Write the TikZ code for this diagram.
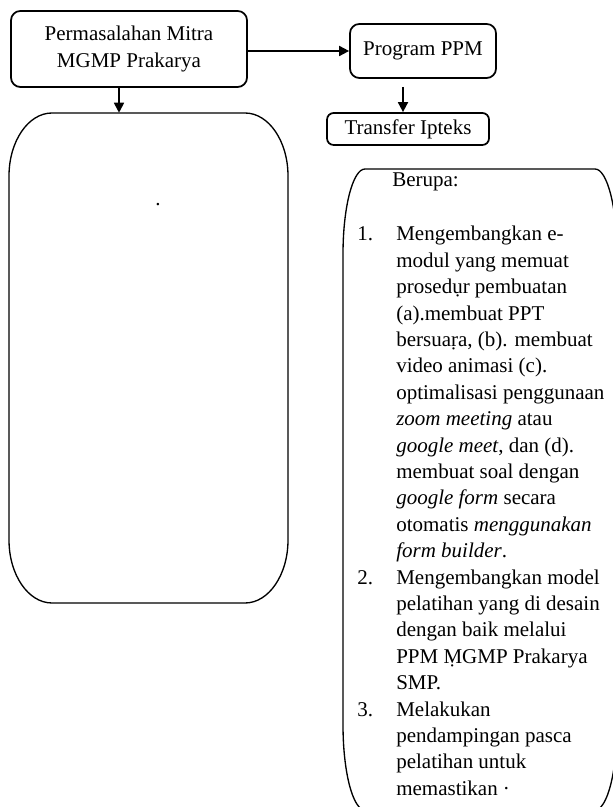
\documentclass[tikz,border=0pt]{standalone}
\usepackage{fontspec}
\setmainfont{Liberation Serif}
\usetikzlibrary{arrows.meta, calc, fit}
\tikzset{
    x=0.75pt, y=0.75pt, % one unit is one pixel of the scan
    every node/.style={font=\fontsize{15.75}{19.8}\selectfont}, % Times-like text everywhere
    box/.style={draw, line width=1.3pt, rounded corners=7pt, align=center, inner sep=2pt}, % the small boxes on top
    arr/.style={-{Triangle[length=7.5pt, width=7.5pt]}, line width=1.3pt}, % the black arrows
    outline/.style={line width=1pt}, % the two big rounded frames
}

\begin{document}
\begin{tikzpicture}
    \useasboundingbox (0,0) rectangle (613,807);
    \clip (0,0) rectangle (613,807);

    \node[box, minimum width=177pt, minimum height=57pt] (prob) at (129,758) {Permasalahan Mitra\\MGMP Prakarya};
    \node[box, minimum width=109.5pt, minimum height=40.5pt] (prog) at (423,756) {Program PPM};
    \node[box, rounded corners=5pt, minimum width=121.5pt, minimum height=24pt] (trans) at (408,678) {Transfer Ipteks};

    % left frame
    \node[fit={(9,204) (288,694)}, inner sep=0] (lbox) {};
    \draw[outline] (52,694) -- (245,694) arc[start angle=90, end angle=0, x radius=43, y radius=63]
        -- (288,267) arc[start angle=0, end angle=-90, x radius=43, y radius=63]
        -- (52,204) arc[start angle=270, end angle=180, x radius=43, y radius=63]
        -- (9,631) arc[start angle=180, end angle=90, x radius=43, y radius=63] -- cycle;
    \node[anchor=base, inner sep=0] (titik) at (158,601) {.};

    % right frame
    \draw[outline] (365,638) -- (595,638) arc[start angle=90, end angle=0, x radius=22, y radius=85]
        -- (617,82) arc[start angle=0, end angle=-90, x radius=22, y radius=85]
        -- (365,-3) arc[start angle=270, end angle=180, x radius=22, y radius=85]
        -- (343,553) arc[start angle=180, end angle=90, x radius=22, y radius=85] -- cycle;
    \node[anchor=base west, inner sep=0] (berupa) at (392,620) {Berupa:};
    \node[anchor=base west, inner sep=0] (daftar) at (357,566) {%
        \begin{tabular}[t]{@{}p{29.25pt}@{}l@{}}
        1. & Mengembangkan e-\\
           & modul yang memuat\\
           & prosedụr pembuatan\\
           & (a).membuat PPT\\
           & bersuaṛa, (b). membuat\\
           & video animasi (c).\\
           & optimalisasi penggunaan\\
           & \textit{zoom meeting} atau\\
           & \textit{google meet}, dan (d).\\
           & membuat soal dengan\\
           & \textit{google form} secara\\
           & otomatis \textit{menggunakan}\\
           & \textit{form builder}.\\
        2. & Mengembangkan model\\
           & pelatihan yang di desain\\
           & dengan baik melalui\\
           & PPM ṂGMP Prakarya\\
           & SMP.\\
        3. & Melakukan\\
           & pendampingan pasca\\
           & pelatihan untuk\\
           & memastikan ·
        \end{tabular}};

    % arrows
    \coordinate (a2) at ($(prob.south)+(-10,0)$);
    \coordinate (a3) at ($(prog.south)+(-20,0)$);
    \draw[arr] (prob.east |- prog) -- (prog.west);
    \draw[arr] (a2) -- (a2 |- lbox.north);
    \draw[arr, shorten <=6pt] (a3) -- (a3 |- trans.north);
\end{tikzpicture}
\end{document}
